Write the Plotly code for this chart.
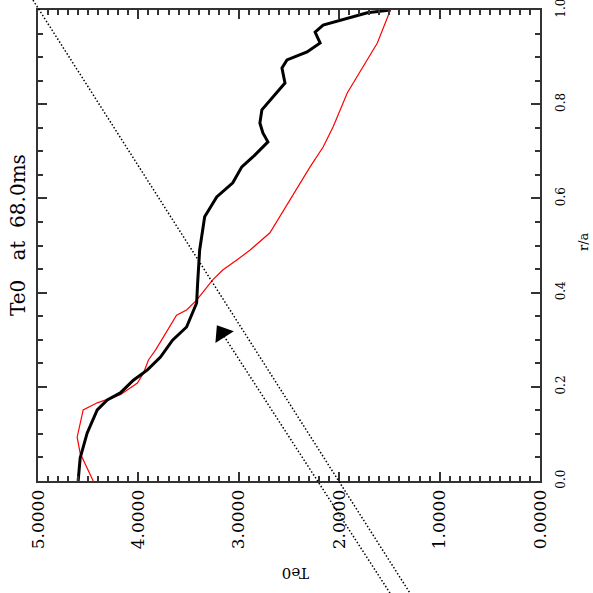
import plotly.graph_objects as go

# ---- data ----
black_r = [0.0, 0.049, 0.102, 0.151, 0.172, 0.187, 0.214, 0.236, 0.263, 0.299, 0.327,
           0.378, 0.420, 0.490, 0.561, 0.603, 0.633, 0.667, 0.688, 0.720, 0.739, 0.760,
           0.788, 0.815, 0.845, 0.877, 0.894, 0.911, 0.930, 0.953, 0.968, 0.994, 1.0]
black_te = [4.60, 4.58, 4.51, 4.41, 4.31, 4.18, 4.05, 3.91, 3.78, 3.66, 3.52,
            3.42, 3.41, 3.39, 3.34, 3.22, 3.06, 2.97, 2.86, 2.71, 2.76, 2.79,
            2.77, 2.66, 2.54, 2.57, 2.52, 2.32, 2.19, 2.24, 2.16, 1.72, 1.49]

red_r = [0.0, 0.059, 0.093, 0.151, 0.166, 0.176, 0.183, 0.208, 0.229, 0.257, 0.278,
         0.306, 0.352, 0.363, 0.384, 0.427, 0.448, 0.469, 0.490, 0.527, 0.597, 0.667,
         0.709, 0.752, 0.824, 0.879, 0.930, 1.0]
red_te = [4.45, 4.58, 4.61, 4.55, 4.41, 4.28, 4.18, 4.01, 3.95, 3.90, 3.83,
          3.75, 3.62, 3.52, 3.42, 3.26, 3.16, 3.02, 2.89, 2.69, 2.49, 2.29,
          2.16, 2.06, 1.92, 1.76, 1.62, 1.49]

# dotted cursor lines (Te0, r/a end points)
cursor1_te = [5.05, 1.295]
cursor1_r = [1.021, -0.238]
cursor2_te = [1.494, 3.167]
cursor2_r = [-0.238, 0.314]

te_ticks = [0, 1, 2, 3, 4, 5]
r_ticks = [0.0, 0.2, 0.4, 0.6, 0.8, 1.0]

# ---- layout geometry (pixels) ----
W = H = 593
L, R, T, B = 38, 540, 10, 481
kx = (R - L) / 5.0
ky = (B - T) / 1.0

axis_col = "#333333"
font_serif = "DejaVu Serif"

fig = go.Figure()
fig.add_trace(go.Scatter(x=red_te, y=red_r, mode="lines",
                         line=dict(color="#ff0000", width=1.2),
                         xaxis="x", yaxis="y", showlegend=False))
fig.add_trace(go.Scatter(x=black_te, y=black_r, mode="lines",
                         line=dict(color="black", width=3),
                         xaxis="x", yaxis="y", showlegend=False))
fig.add_trace(go.Scatter(x=cursor1_te, y=cursor1_r, mode="lines",
                         line=dict(color="black", width=1.5, dash="1.5px,2px"),
                         xaxis="x2", yaxis="y2", showlegend=False))
fig.add_trace(go.Scatter(x=cursor2_te, y=cursor2_r, mode="lines+markers",
                         line=dict(color="black", width=1.5, dash="1.5px,2px"),
                         marker=dict(symbol="triangle-up", size=[0, 19], color="black",
                                     opacity=1, line=dict(width=0), angleref="previous"),
                         xaxis="x2", yaxis="y2", showlegend=False))

common = dict(showline=True, linecolor=axis_col, linewidth=2, mirror="allticks",
              ticks="inside", ticklen=9, tickwidth=2, tickcolor=axis_col,
              showgrid=False, zeroline=False, tickangle=-90, automargin=False,
              ticklabeloverflow="allow")

fig.update_layout(
    width=W, height=H, autosize=False,
    margin=dict(l=0, r=0, t=0, b=0, pad=0, autoexpand=False),
    paper_bgcolor="white", plot_bgcolor="rgba(0,0,0,0)",
    xaxis=dict(domain=[L / W, R / W], range=[5, 0], anchor="y",
               tickvals=te_ticks, tickformat=".4f",
               tickfont=dict(family=font_serif, size=17, color="black"),
               minor=dict(dtick=0.1, tick0=0, ticks="inside", ticklen=5, tickwidth=2,
                          tickcolor=axis_col),
               **common),
    yaxis=dict(domain=[1 - B / H, 1 - T / H], range=[0, 1], anchor="x", side="right",
               tickvals=r_ticks, tickformat=".1f", ticklabelstandoff=9,
               tickfont=dict(family=font_serif, size=12, color="black"),
               minor=dict(dtick=0.05, tick0=0, ticks="inside", ticklen=5, tickwidth=2,
                          tickcolor=axis_col),
               **common),
    xaxis2=dict(domain=[0, 1], range=[5 + L / kx, 5 - (W - L) / kx], anchor="y2",
                visible=False, fixedrange=True),
    yaxis2=dict(domain=[0, 1], range=[(B - H) / ky, (B - 0) / ky], anchor="x2",
                visible=False, fixedrange=True),
    annotations=[
        dict(text="Te0\u00a0\u00a0 at\u00a0 68.0ms", xref="paper", yref="paper",
             x=18 / W, y=1 - 235 / H, xanchor="center", yanchor="middle",
             showarrow=False, textangle=-90,
             font=dict(family=font_serif, size=20, color="black")),
        dict(text="r/a", xref="paper", yref="paper",
             x=584 / W, y=1 - 242 / H, xanchor="center", yanchor="middle",
             showarrow=False, textangle=-90,
             font=dict(family=font_serif, size=13, color="black")),
        dict(text="Te0", xref="paper", yref="paper",
             x=296 / W, y=1 - 573 / H, xanchor="center", yanchor="middle",
             showarrow=False, textangle=180,
             font=dict(family=font_serif, size=15, color="black")),
    ],
)

fig.write_html("out.html", config={"displayModeBar": False},
               post_script="document.body.style.margin='0px';")
